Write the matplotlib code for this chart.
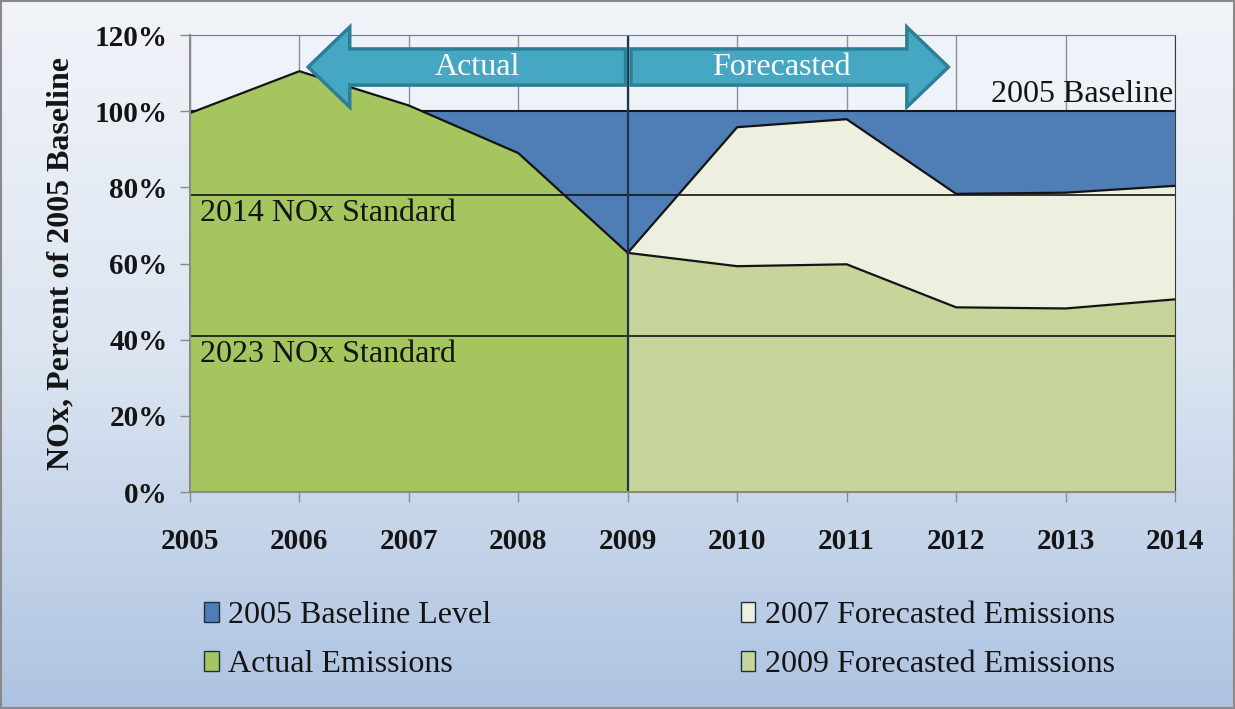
import matplotlib.pyplot as plt
import matplotlib.patches as mpatches
from matplotlib.colors import LinearSegmentedColormap
import numpy as np

# data (percent of 2005 baseline)
years = [2005, 2006, 2007, 2008, 2009, 2010, 2011, 2012, 2013, 2014]
actual_years = [2005, 2006, 2007, 2008, 2009]
actual = [99.5, 110.5, 101.5, 89.0, 62.8]
forecast_years = [2009, 2010, 2011, 2012, 2013, 2014]
forecast_2007 = [62.8, 95.8, 97.9, 78.3, 78.6, 80.4]
forecast_2009 = [62.8, 59.3, 59.8, 48.5, 48.2, 50.6]
baseline = 100
std_2014 = 78
std_2023 = 41

c_blue = '#4F7DB5'
c_green = '#A5C65E'
c_f07 = '#EDF0DF'
c_f09 = '#C7D59A'
c_arrow = '#46A7C2'
c_arrow_edge = '#2C7F96'
ink = '#141414'

plt.rcParams['font.family'] = ['Liberation Serif', 'DejaVu Serif']

fig = plt.figure(figsize=(12.35, 7.09), dpi=100)

# gradient background
bg = fig.add_axes([0, 0, 1, 1], zorder=-10)
grad = np.linspace(0, 1, 256).reshape(-1, 1)
cmap = LinearSegmentedColormap.from_list('bg', ['#F1F4F9', '#DCE5F1', '#AEC3E1'])
bg.imshow(grad, aspect='auto', cmap=cmap, extent=[0, 1, 0, 1])
bg.add_patch(mpatches.Rectangle((0.001, 0.001), 0.998, 0.997, fill=False,
                                edgecolor='#8A8A8A', lw=1.5))
bg.set_xlim(0, 1)
bg.set_ylim(0, 1)
bg.axis('off')

ax = fig.add_axes([0.1538, 0.306, 0.7976, 0.6446])
ax.set_facecolor('#EEF2F9')

# combined lower boundary of the baseline band
low_years = actual_years + forecast_years[1:]
low_vals = np.array(actual + forecast_2007[1:])

ax.fill_between(low_years, low_vals, baseline, where=low_vals <= baseline + 2,
                interpolate=True, color=c_blue, lw=0, zorder=1)
ax.plot([years[0], years[-1]], [baseline, baseline], color=ink, lw=1.5, zorder=2)

ax.fill_between(actual_years, 0, actual, color=c_green, lw=0, zorder=3)
ax.fill_between(forecast_years, 0, forecast_2009, color=c_f09, lw=0, zorder=3)
ax.fill_between(forecast_years, forecast_2009, forecast_2007, color=c_f07, lw=0, zorder=3)

ax.plot(actual_years, actual, color=ink, lw=1.6, zorder=4)
ax.plot(forecast_years, forecast_2007, color=ink, lw=1.6, zorder=4)
ax.plot(forecast_years, forecast_2009, color=ink, lw=1.6, zorder=4)

# standards
ax.axhline(std_2014, color=ink, lw=1.2, zorder=5)
ax.axhline(std_2023, color=ink, lw=1.2, zorder=5)
ax.text(2005.09, std_2014 - 1.0, '2014 NOx Standard', fontsize=23, color=ink,
        va='top', ha='left', zorder=6)
ax.text(2005.09, std_2023 - 1.0, '2023 NOx Standard', fontsize=23, color=ink,
        va='top', ha='left', zorder=6)
ax.text(2013.98, baseline + 0.6, '2005 Baseline', fontsize=23, color=ink,
        va='bottom', ha='right', zorder=6)

# divider between actual and forecast
ax.axvline(2009, color='#1D3550', lw=1.6, zorder=5)

# vertical grid
for yr in years:
    ax.axvline(yr, color='#8A929C', lw=1.0, zorder=0.5)

# arrows
for x0, dx in [(2008.98, -2.9), (2009.03, 2.9)]:
    arr = mpatches.FancyArrow(x0, 111.6, dx, 0, width=9.5, head_width=21,
                              head_length=0.38, length_includes_head=True,
                              facecolor=c_arrow, edgecolor=c_arrow_edge, lw=2.5,
                              zorder=7, clip_on=False)
    ax.add_patch(arr)
ax.text(2007.63, 111.4, 'Actual', color='white', fontsize=23, ha='center',
        va='center', zorder=8)
ax.text(2010.4, 111.4, 'Forecasted', color='white', fontsize=23, ha='center',
        va='center', zorder=8)

ax.set_xlim(2005, 2014)
ax.set_ylim(0, 120)
ax.set_xticks(years)
ax.set_yticks([0, 20, 40, 60, 80, 100, 120])
ax.set_yticklabels(['%d%%' % v for v in [0, 20, 40, 60, 80, 100, 120]])
ax.tick_params(axis='both', labelsize=21, colors='#8A8A8A', labelcolor=ink,
               length=7, width=1)
ax.tick_params(axis='x', pad=19)
ax.tick_params(axis='y', pad=9)
for lbl in ax.get_xticklabels() + ax.get_yticklabels():
    lbl.set_fontweight('bold')

ax.set_ylabel('NOx, Percent of 2005 Baseline', fontsize=23, fontweight='bold',
              color=ink, labelpad=14)

for side in ['left', 'bottom']:
    ax.spines[side].set_color('#8A8A8A')
    ax.spines[side].set_linewidth(1.5)
ax.spines['top'].set_color('#5B7FB0')
ax.spines['right'].set_color('#3A3A3A')
for sp in ax.spines.values():
    sp.set_zorder(6)

handles = [
    mpatches.Patch(facecolor=c_blue, edgecolor='#1F2F40', label='2005 Baseline Level'),
    mpatches.Patch(facecolor=c_green, edgecolor='#1F2F40', label='Actual Emissions'),
    mpatches.Patch(facecolor=c_f07, edgecolor='#1F2F40', label='2007 Forecasted Emissions'),
    mpatches.Patch(facecolor=c_f09, edgecolor='#1F2F40', label='2009 Forecasted Emissions'),
]
fig.legend(handles=handles, ncol=2, loc='center', bbox_to_anchor=(0.534, 0.097),
           frameon=False, fontsize=23, handlelength=0.45, handleheight=0.6,
           handletextpad=0.3, columnspacing=7.8, labelspacing=0.62,
           labelcolor=ink)

fig.savefig('out.png', dpi=100)
